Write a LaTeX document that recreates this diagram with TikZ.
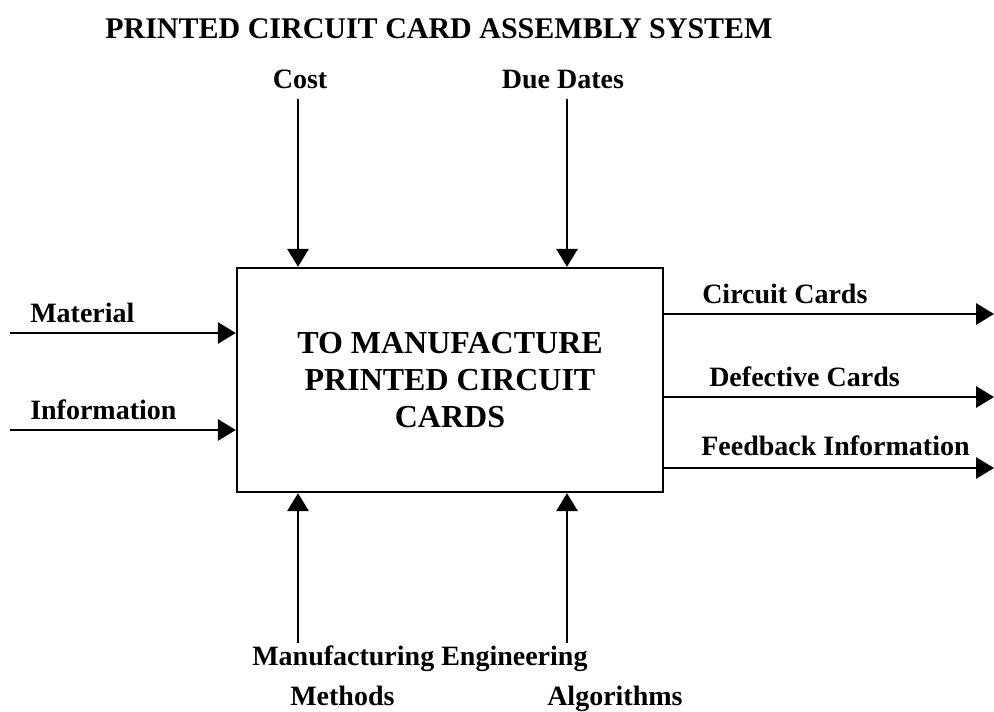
\documentclass[tikz,border=0pt]{standalone}
\usepackage{fontspec}
\setmainfont{Liberation Serif}
\usetikzlibrary{arrows.meta}
\begin{document}
\begin{tikzpicture}[x=0.75pt,y=-0.75pt,
  lbl/.style={font=\fontsize{21}{25}\selectfont\bfseries, inner sep=0pt},
  flow/.style={line width=1.6pt, -{Triangle[length=13.5pt,width=16pt]}},
  procbox/.style={draw, line width=1.8pt, minimum width=319.5pt, minimum height=168pt,
    align=center, font=\fontsize{24}{27.75}\selectfont\bfseries}]
\useasboundingbox (0,0) rectangle (994,712);

% title
\node[lbl, font=\fontsize{22.5}{27}\selectfont\bfseries, anchor=base west] (title) at (105,39)
  {PRINTED CIRCUIT CARD ASSEMBLY SYSTEM};

% activity box
\node[procbox] (box) at (450,380) {TO MANUFACTURE\\PRINTED CIRCUIT\\CARDS};

% controls (top)
\node[lbl, anchor=base] (cost) at (300,89) {Cost};
\node[lbl, anchor=base] (due) at (563,89) {Due Dates};
\coordinate (costS) at (298,99);
\coordinate (dueS) at (567,99);
\draw[flow] (costS) -- (costS |- box.north);
\draw[flow] (dueS) -- (dueS |- box.north);

% inputs (left)
\node[lbl, anchor=base west] (mat) at (30,323) {Material};
\node[lbl, anchor=base west] (info) at (30,419) {Information};
\coordinate (matS) at (10,333);
\coordinate (infoS) at (10,430);
\draw[flow] (matS) -- (matS -| box.west);
\draw[flow] (infoS) -- (infoS -| box.west);

% outputs (right)
\node[lbl, anchor=base west] (cc) at (702,304) {Circuit Cards};
\node[lbl, anchor=base west] (dc) at (709,386) {Defective Cards};
\node[lbl, anchor=base west] (fb) at (701,455) {Feedback Information};
\coordinate (ccE) at (994,314);
\coordinate (dcE) at (994,397);
\coordinate (fbE) at (994,468);
\draw[flow] (ccE -| box.east) -- (ccE);
\draw[flow] (dcE -| box.east) -- (dcE);
\draw[flow] (fbE -| box.east) -- (fbE);

% mechanisms (bottom)
\coordinate (mechA) at (298,643);
\coordinate (mechB) at (567,643);
\draw[flow] (mechA) -- (mechA |- box.south);
\draw[flow] (mechB) -- (mechB |- box.south);
\node[lbl, anchor=base west] (manu) at (252,665) {Manufacturing};
\node[lbl, anchor=base west] (eng) at (441,665) {Engineering};
\node[lbl, anchor=base west] (meth) at (290,705) {Methods};
\node[lbl, anchor=base west] (algo) at (547,705) {Algorithms};
\end{tikzpicture}
\end{document}
